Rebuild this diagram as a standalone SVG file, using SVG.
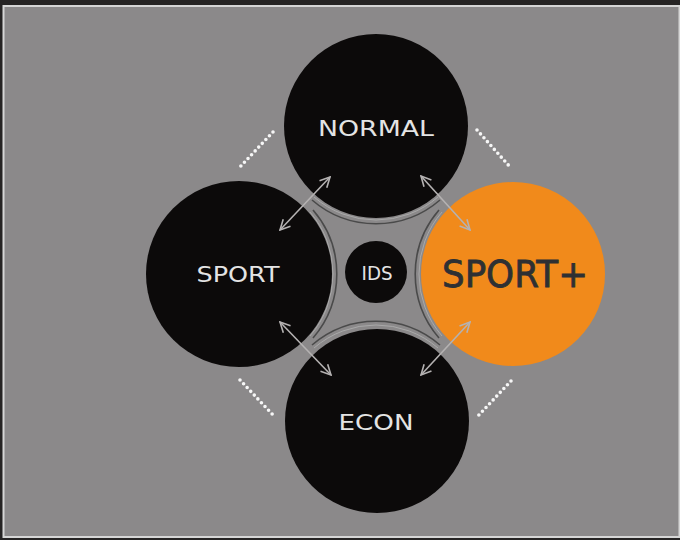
<svg xmlns="http://www.w3.org/2000/svg" width="680" height="540" viewBox="0 0 680 540">
<defs>
<style>
.c{fill:#0c0a0a}
.lbl{font-family:"DejaVu Sans","Liberation Sans",sans-serif;fill:#e4e4e4;text-anchor:middle;dominant-baseline:central;font-weight:normal}
.ring{fill:none;stroke:#4a4a4a;stroke-width:1.6}
.ring2{fill:none;stroke:#a9a9a9;stroke-width:1}
.arr{stroke:#b5b2b2;stroke-width:1.6;fill:none;marker-start:url(#ah);marker-end:url(#ah)}
.dots{stroke:#f6f6f6;stroke-width:3.6;stroke-linecap:round;stroke-dasharray:0 5.2;fill:none}
</style>
<marker id="ah" viewBox="0 0 12 12" refX="11" refY="6" markerWidth="12" markerHeight="12" markerUnits="userSpaceOnUse" orient="auto-start-reverse">
<path d="M1,1 L11,6 L1,11" fill="none" stroke="#b5b2b2" stroke-width="1.6"/>
</marker>
</defs>
<rect width="680" height="540" fill="#262424"/>
<rect x="3.5" y="6" width="676" height="531" fill="#8b898a" stroke="#d6d6d6" stroke-width="2"/>
<g id="rings">
<path class="ring2" d="M314,197 A95,95 0 0 0 438,197"/>
<path class="ring" d="M312,200 A98,98 0 0 0 440,200"/>
<path class="ring2" d="M314,348 A95,95 0 0 1 438,348"/>
<path class="ring" d="M312,345 A98,98 0 0 1 440,345"/>
<path class="ring2" d="M310,212 A95,95 0 0 1 310,336"/>
<path class="ring" d="M313,210 A98,98 0 0 1 313,338"/>
<path class="ring2" d="M442,212 A95,95 0 0 0 442,336"/>
<path class="ring" d="M439,210 A98,98 0 0 0 439,338"/>
</g>
<g id="normal"><circle class="c" cx="376" cy="126" r="92"/><text class="lbl" x="376" y="129" font-size="21" textLength="116" lengthAdjust="spacingAndGlyphs">NORMAL</text></g>
<g id="sport"><circle class="c" cx="239" cy="274" r="93"/><text class="lbl" x="238" y="275" font-size="21" textLength="83" lengthAdjust="spacingAndGlyphs">SPORT</text></g>
<g id="econ"><circle class="c" cx="377" cy="421" r="92"/><text class="lbl" x="376" y="423" font-size="21" textLength="75" lengthAdjust="spacingAndGlyphs">ECON</text></g>
<g id="sportplus"><circle cx="513" cy="274" r="92" fill="#f18a1b"/><text x="515" y="274" font-size="38" font-family="'DejaVu Sans','Liberation Sans',sans-serif" fill="#2e3033" stroke="#2e3033" stroke-width="0.8" text-anchor="middle" dominant-baseline="central" textLength="146" lengthAdjust="spacingAndGlyphs">SPORT+</text></g>
<g id="ids"><circle class="c" cx="376" cy="272" r="31"/><text class="lbl" x="377" y="273" font-size="19" textLength="31" lengthAdjust="spacingAndGlyphs">IDS</text></g>
<g id="connectors">
<line class="arr" x1="280" y1="230" x2="330" y2="177"/>
<line class="arr" x1="421" y1="176" x2="470" y2="230"/>
<line class="arr" x1="280" y1="322" x2="331" y2="375"/>
<line class="arr" x1="470" y1="322" x2="421" y2="375"/>
<line class="dots" x1="273" y1="132" x2="239" y2="168"/>
<line class="dots" x1="477" y1="130" x2="511" y2="168"/>
<line class="dots" x1="240" y1="380" x2="274" y2="416"/>
<line class="dots" x1="511" y1="381" x2="477" y2="417"/>
</g>
</svg>
